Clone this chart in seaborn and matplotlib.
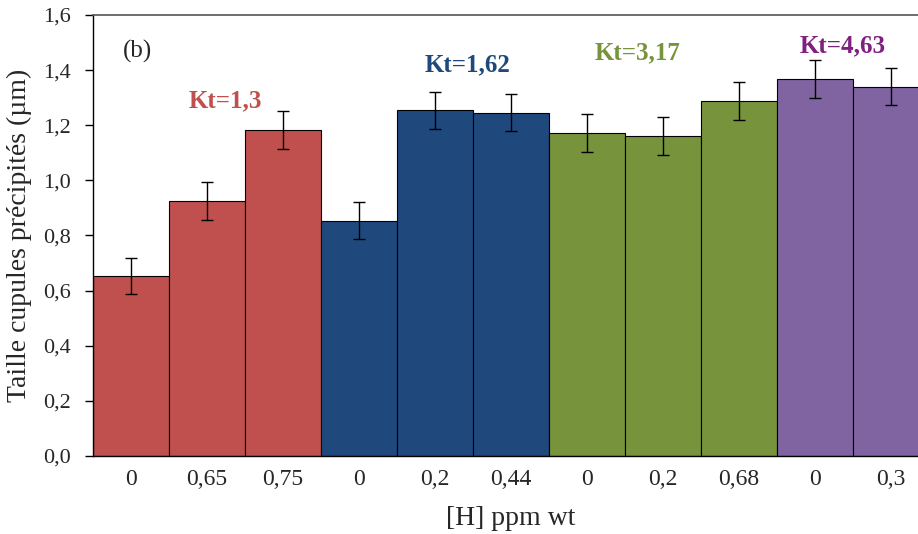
import matplotlib
matplotlib.use('Agg')
import matplotlib.pyplot as plt
import seaborn as sns
import pandas as pd

# data
groupes = ['Kt=1,3'] * 3 + ['Kt=1,62'] * 3 + ['Kt=3,17'] * 3 + ['Kt=4,63'] * 2
h_labels = ['0', '0,65', '0,75', '0', '0,2', '0,44', '0', '0,2', '0,68', '0', '0,3']
taille = [0.653, 0.926, 1.181, 0.853, 1.255, 1.245, 1.171, 1.161, 1.287, 1.368, 1.340]
erreur = [0.066, 0.068, 0.069, 0.067, 0.067, 0.067, 0.068, 0.068, 0.069, 0.069, 0.066]

couleurs = {'Kt=1,3': '#C0504D', 'Kt=1,62': '#1F497D', 'Kt=3,17': '#77933C', 'Kt=4,63': '#8064A2'}
couleurs_txt = {'Kt=1,3': '#C0504D', 'Kt=1,62': '#1F497D', 'Kt=3,17': '#77933C', 'Kt=4,63': '#7F1F80'}

df = pd.DataFrame({'pos': [f'{g}_{h}' for g, h in zip(groupes, h_labels)],
                   'groupe': groupes, 'taille': taille, 'err': erreur})

sns.set_style('ticks')
plt.rcParams['font.family'] = ['Liberation Serif', 'DejaVu Serif']

fig = plt.figure(figsize=(9.18, 5.34), dpi=100)
ax = fig.add_axes([0.1013, 0.146, 0.9107, 0.826])

sns.barplot(data=df, x='pos', y='taille', hue='groupe', palette=couleurs, dodge=False,
            width=1.0, saturation=1, edgecolor='black', linewidth=0.8, legend=False, ax=ax)
ax.errorbar(range(len(df)), df['taille'], yerr=df['err'], fmt='none',
            ecolor='black', elinewidth=1, capsize=4.5, capthick=1)

ax.set_xlim(-0.5, len(df) - 0.5)
ax.set_ylim(0, 1.6)
ax.set_yticks([0, 0.2, 0.4, 0.6, 0.8, 1.0, 1.2, 1.4, 1.6])
ax.set_yticklabels([f'{v:.1f}'.replace('.', ',') for v in ax.get_yticks()], fontsize=16)
ax.set_xticks(range(len(df)))
ax.set_xticklabels(h_labels, fontsize=17)
ax.tick_params(axis='x', length=0, pad=9)
ax.tick_params(axis='y', length=6, width=1, direction='out', color='black', pad=10)

ax.set_xlabel('[H] ppm wt', fontsize=20, labelpad=12)
ax.set_ylabel('Taille cupules précipités (µm)', fontsize=20, labelpad=8)

for s in ['left', 'bottom']:
    ax.spines[s].set_color('black')
    ax.spines[s].set_linewidth(1)
ax.spines['top'].set_visible(True)
ax.spines['top'].set_color('#555555')
ax.spines['top'].set_linewidth(1.2)
ax.spines['right'].set_visible(False)

# group annotations
ann = [('Kt=1,3', 1.24, 1.288), ('Kt=1,62', 4.43, 1.419),
       ('Kt=3,17', 6.67, 1.462), ('Kt=4,63', 9.36, 1.488)]
for txt, xp, yp in ann:
    ax.text(xp, yp, txt, color=couleurs_txt[txt], fontsize=18, fontweight='bold',
            ha='center', va='center')
ax.text(0.08, 1.466, '(b)', fontsize=18, ha='center', va='center')

fig.savefig('out.png', dpi=100)
